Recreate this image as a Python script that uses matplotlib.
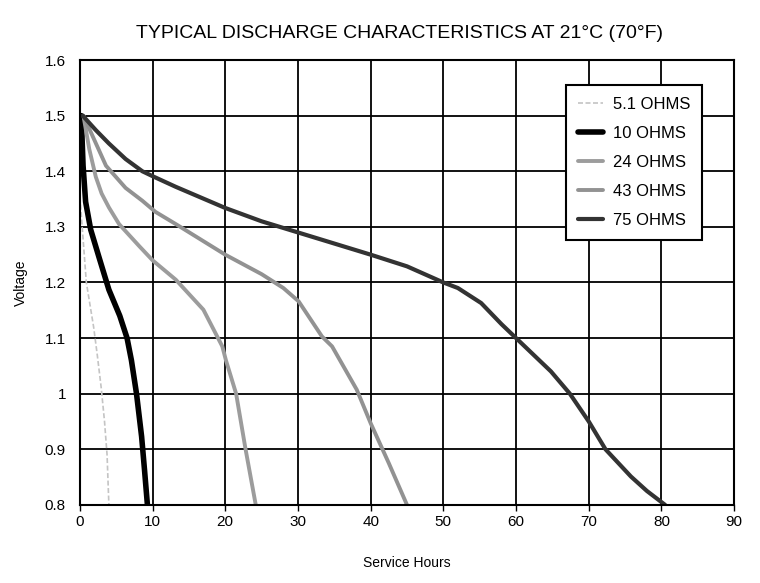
import matplotlib.pyplot as plt

plt.rcParams['font.family'] = ['Liberation Sans', 'DejaVu Sans']

# discharge curves (hours, volts)
h_51 = [0.1, 0.5, 0.9, 1.4, 1.9, 2.4, 2.95, 3.4, 3.75, 4.0]
v_51 = [1.34, 1.27, 1.20, 1.16, 1.12, 1.07, 1.01, 0.95, 0.89, 0.80]

h_10 = [0.2, 0.45, 0.8, 1.5, 2.65, 4, 5.5, 6.5, 7.1, 7.8, 8.5, 8.9, 9.3]
v_10 = [1.50, 1.41, 1.345, 1.295, 1.245, 1.187, 1.14, 1.10, 1.06, 1.00, 0.923, 0.863, 0.80]

h_24 = [0.5, 1.3, 2.2, 3, 4, 5.4, 8.2, 10, 13.2, 17, 19.6, 20.1, 21.5, 22.8, 24.2]
v_24 = [1.50, 1.44, 1.39, 1.36, 1.335, 1.305, 1.265, 1.24, 1.205, 1.151, 1.085, 1.06, 1.0, 0.90, 0.80]

h_43 = [0.5, 1.7, 3.6, 6.3, 8.6, 10.4, 13.2, 20, 25, 28, 30.1, 33.3, 34.7, 38.1, 40, 42.5, 45]
v_43 = [1.50, 1.465, 1.41, 1.37, 1.347, 1.327, 1.305, 1.25, 1.215, 1.19, 1.166, 1.103, 1.085,
        1.007, 0.947, 0.875, 0.80]

h_75 = [0.4, 2.2, 4, 6.3, 8.6, 10.2, 13.2, 20, 25, 30, 35, 40, 45, 50, 52, 55.2, 58, 60,
        62, 64.8, 67.4, 70, 72.3, 75.8, 78, 80.5]
v_75 = [1.50, 1.474, 1.45, 1.422, 1.40, 1.39, 1.372, 1.334, 1.31, 1.29, 1.27, 1.25, 1.229,
        1.20, 1.19, 1.163, 1.125, 1.10, 1.075, 1.04, 1.0, 0.95, 0.90, 0.851, 0.825, 0.80]

labels = ['5.1 OHMS', '10 OHMS', '24 OHMS', '43 OHMS', '75 OHMS']

fig = plt.figure(figsize=(7.6, 5.83), dpi=100)
ax = fig.add_axes([0.105, 0.134, 0.861, 0.763])

kw = dict(solid_joinstyle='round', solid_capstyle='round')
ax.plot(h_51, v_51, color='#c4c4c4', lw=1.2, ls=(0, (3, 1.5)), label=labels[0])
ax.plot(h_10, v_10, color='black', lw=4, label=labels[1], **kw)
ax.plot(h_24, v_24, color='#9c9c9c', lw=2.8, label=labels[2], **kw)
ax.plot(h_43, v_43, color='#929292', lw=2.8, label=labels[3], **kw)
ax.plot(h_75, v_75, color='#333333', lw=3, label=labels[4], **kw)

ax.set_xlim(0, 90)
ax.set_ylim(0.8, 1.6)
ax.set_xticks(range(0, 91, 10))
ax.set_yticks([0.8, 0.9, 1.0, 1.1, 1.2, 1.3, 1.4, 1.5, 1.6])
ax.set_yticklabels(['0.8', '0.9', '1', '1.1', '1.2', '1.3', '1.4', '1.5', '1.6'])
ax.grid(True, color='black', lw=1.3)
ax.set_axisbelow(True)
for s in ax.spines.values():
    s.set_linewidth(1.5)
ax.tick_params(axis='x', direction='out', length=4, width=1, labelsize=11, pad=3)
ax.tick_params(axis='y', length=0, labelsize=11, pad=10)

ax.set_xlabel('Service Hours', fontsize=10, labelpad=20)
ax.set_ylabel('Voltage', fontsize=10, labelpad=12)

fig.text(0.525, 0.943, 'TYPICAL DISCHARGE CHARACTERISTICS AT 21\u00b0C (70\u00b0F)',
         ha='center', va='center', fontsize=14)

leg = ax.legend(loc='upper right', bbox_to_anchor=(0.951, 0.944), borderaxespad=0,
                fontsize=12, handlelength=1.5, handletextpad=0.6, labelspacing=0.85,
                fancybox=False, framealpha=1, edgecolor='black', borderpad=0.7)
leg.get_frame().set_linewidth(1.5)

fig.savefig('out.png', dpi=100)
